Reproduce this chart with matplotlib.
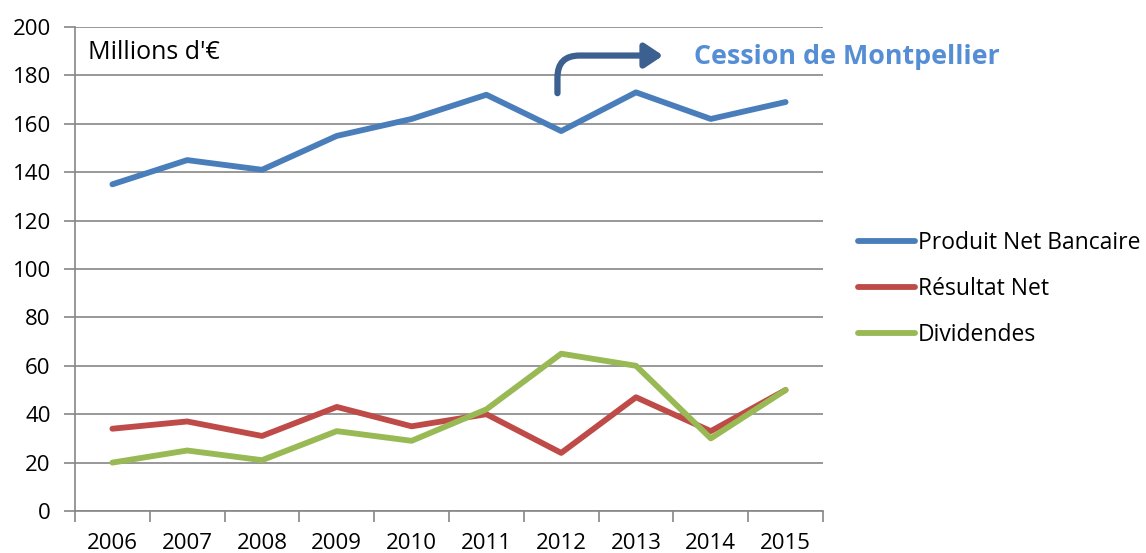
import matplotlib
matplotlib.use("Agg")
import matplotlib.pyplot as plt
from matplotlib.patches import FancyArrowPatch

plt.rcParams['font.family'] = ['Open Sans', 'DejaVu Sans']

years = ["2006", "2007", "2008", "2009", "2010", "2011", "2012", "2013", "2014", "2015"]
pnb = [135, 145, 141, 155, 162, 172, 157, 173, 162, 169]
resultat = [34, 37, 31, 43, 35, 40, 24, 47, 33, 50]
dividendes = [20, 25, 21, 33, 29, 42, 65, 60, 30, 50]

fig = plt.figure(figsize=(11.46, 5.53), dpi=100)
ax = fig.add_axes([75/1146, 42/553, (823-75)/1146, (511-27)/553])

x = list(range(len(years)))
lw = 4.2
ax.plot(x, pnb, color='#4A7EBB', lw=lw, solid_capstyle='round', label='Produit Net Bancaire', zorder=3)
ax.plot(x, resultat, color='#BE4B48', lw=lw, solid_capstyle='round', label='Résultat Net', zorder=3)
ax.plot(x, dividendes, color='#98B954', lw=lw, solid_capstyle='round', label='Dividendes', zorder=4)

ax.set_xlim(-0.5, len(years) - 0.5)
ax.set_ylim(0, 200)
ax.set_yticks(range(0, 201, 20))
ax.set_xticks(x)
ax.set_xticklabels(years)
ax.set_xticks([i - 0.5 for i in range(len(years) + 1)], minor=True)
ax.tick_params(axis='x', which='major', length=0, pad=16, labelsize=16)
ax.tick_params(axis='x', which='minor', length=8, width=1.2, color='#868686')
ax.tick_params(axis='y', length=8, width=1.2, color='#868686', pad=9.5, labelsize=16)

ax.grid(axis='y', color='#868686', lw=1.2)
ax.set_axisbelow(True)
for s in ['top', 'right']:
    ax.spines[s].set_visible(False)
for s in ['left', 'bottom']:
    ax.spines[s].set_color('#868686')
    ax.spines[s].set_linewidth(1.2)

ax.text(0.017, 0.948, "Millions d'€", transform=ax.transAxes, fontsize=18, va='center', ha='left')

arrow = FancyArrowPatch((5.95, 171.5), (7.4, 188.2),
                        connectionstyle="angle,angleA=90,angleB=180,rad=22",
                        arrowstyle="-|>,head_length=0.9,head_width=0.6",
                        color='#3C6190', lw=4.5, capstyle='round', mutation_scale=12, zorder=5)
ax.add_patch(arrow)
ax.text(7.77, 187.6, "Cession de Montpellier", fontsize=19.4, fontweight='bold',
        color='#558ED5', va='center', ha='left', clip_on=False)

leg = ax.legend(loc='center left', bbox_to_anchor=(858/1146, (553-289)/553), bbox_transform=fig.transFigure,
                frameon=False, fontsize=16.5, handlelength=2.5, handletextpad=0.1, labelspacing=0.97,
                borderaxespad=0, borderpad=0)

fig.savefig('out.png', dpi=100)
